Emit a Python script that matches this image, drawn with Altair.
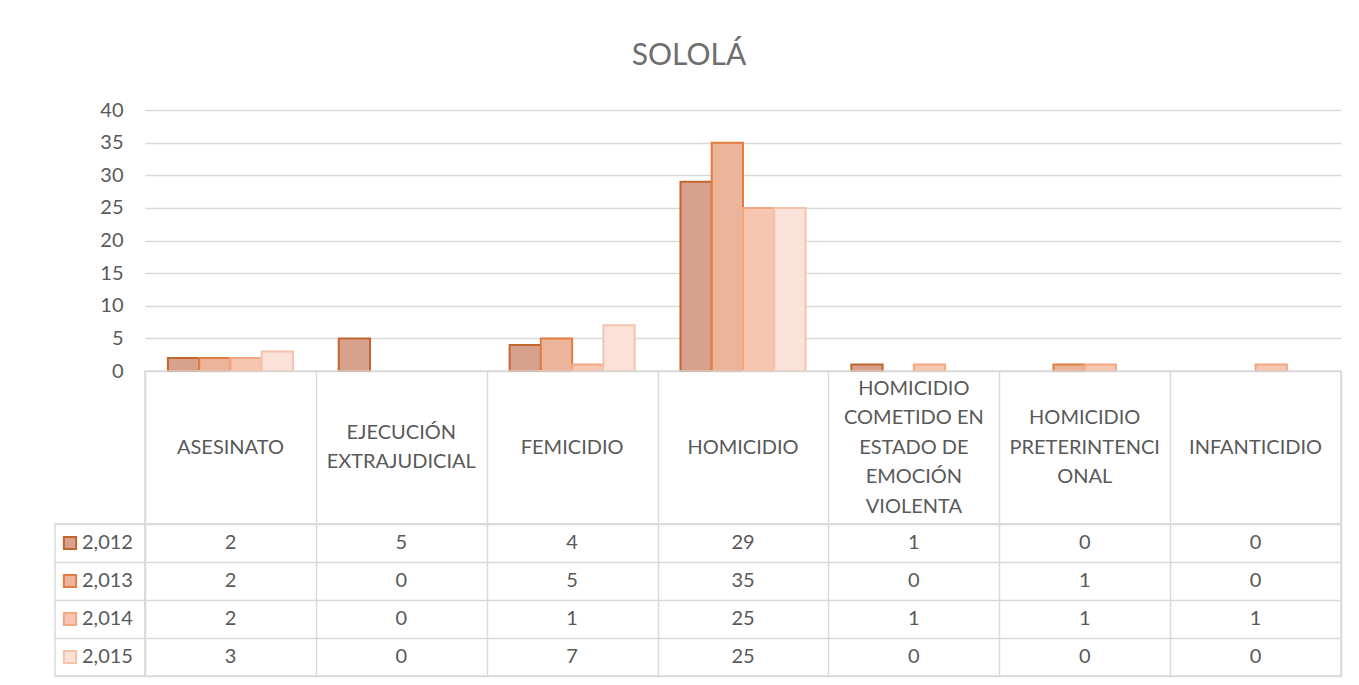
import altair as alt
import pandas as pd

categories = ["ASESINATO", "EJECUCIÓN EXTRAJUDICIAL", "FEMICIDIO", "HOMICIDIO",
              "HOMICIDIO COMETIDO EN ESTADO DE EMOCIÓN VIOLENTA",
              "HOMICIDIO PRETERINTENCIONAL", "INFANTICIDIO"]
category_labels = ["ASESINATO", "EJECUCIÓN\nEXTRAJUDICIAL", "FEMICIDIO", "HOMICIDIO",
                   "HOMICIDIO\nCOMETIDO EN\nESTADO DE\nEMOCIÓN\nVIOLENTA",
                   "HOMICIDIO\nPRETERINTENCI\nONAL", "INFANTICIDIO"]
years = ["2,012", "2,013", "2,014", "2,015"]
v2012 = [2, 5, 4, 29, 1, 0, 0]
v2013 = [2, 0, 5, 35, 0, 1, 0]
v2014 = [2, 0, 1, 25, 1, 1, 1]
v2015 = [3, 0, 7, 25, 0, 0, 0]
y_ticks = [0, 5, 10, 15, 20, 25, 30, 35, 40]

fills = ["#D8A18E", "#ECB59B", "#F8C6B0", "#FBE2D8"]
strokes = ["#C2662F", "#E27C3F", "#F3A682", "#F4C2AD"]

series = [v2012, v2013, v2014, v2015]
rows = []
for yr, vals in zip(years, series):
    for c, v in zip(categories, vals):
        rows.append({"cat": c, "year": yr, "value": v})
df = pd.DataFrame(rows)
df_bars = df[df["value"] > 0]

# one row per text line of each category label, centred on the cell
line_rows = []
for c, lab in zip(categories, category_labels):
    parts = lab.split("\n")
    k = len(parts)
    for i, p in enumerate(parts):
        line_rows.append({"cat": c, "line": p, "pos": (k - 1) / 2 - i})
df_cats = pd.DataFrame(line_rows)
df_leg = pd.DataFrame({"year": years})

FONT = "Lato"
TXT = "#595959"
GRID = "#D9D9D9"
W, BH, LH, TH, LW = 1196, 261, 153, 152, 90
LINE_H = 29.5
half_span = LH / LINE_H / 2

fill_scale = alt.Scale(domain=years, range=fills)
stroke_scale = alt.Scale(domain=years, range=strokes)
cat_scale_flat = alt.Scale(domain=categories, paddingInner=0, paddingOuter=0)
year_scale_flat = alt.Scale(domain=years, paddingInner=0, paddingOuter=0)

grid_axis = dict(grid=True, tickBand="extent", labels=False, ticks=False, domain=False,
                 title=None, gridColor=GRID, gridWidth=1.5)
no_stroke = alt.ViewBackground(stroke="transparent")
box = alt.ViewBackground(stroke=GRID, strokeWidth=1.5)

bars = alt.Chart(df_bars).mark_bar(strokeWidth=2).encode(
    x=alt.X("cat:N", sort=categories,
            scale=alt.Scale(domain=categories, paddingInner=0.268, paddingOuter=0.134),
            axis=None),
    xOffset=alt.XOffset("year:N", sort=years,
                        scale=alt.Scale(domain=years, paddingInner=0, paddingOuter=0)),
    y=alt.Y("value:Q", scale=alt.Scale(domain=[0, 40]),
            axis=alt.Axis(values=y_ticks, title=None, domain=False, ticks=False,
                          grid=True, gridColor=GRID, gridWidth=1.5,
                          labelFont=FONT, labelFontSize=20, labelColor=TXT,
                          labelPadding=22)),
    fill=alt.Fill("year:N", scale=fill_scale, legend=None),
    stroke=alt.Stroke("year:N", scale=stroke_scale, legend=None),
).properties(width=W, height=BH, view=no_stroke)

cat_chart = alt.Chart(df_cats).mark_text(
    font=FONT, fontSize=20, color=TXT, baseline="middle"
).encode(
    x=alt.X("cat:N", sort=categories, scale=cat_scale_flat, axis=alt.Axis(**grid_axis)),
    y=alt.Y("pos:Q", scale=alt.Scale(domain=[-half_span, half_span]), axis=None),
    text="line:N",
).properties(width=W, height=LH, view=box)

table = alt.Chart(df).mark_text(font=FONT, fontSize=20, color=TXT).encode(
    x=alt.X("cat:N", sort=categories, scale=cat_scale_flat, axis=alt.Axis(**grid_axis)),
    y=alt.Y("year:N", sort=years, scale=year_scale_flat, axis=alt.Axis(**grid_axis)),
    text="value:Q",
).properties(width=W, height=TH, view=box)

leg_y = alt.Y("year:N", sort=years, scale=year_scale_flat, axis=alt.Axis(**grid_axis))
leg_sq = alt.Chart(df_leg).mark_point(shape="square", filled=True, size=150,
                                      strokeWidth=2, opacity=1).encode(
    x=alt.value(15),
    y=leg_y,
    fill=alt.Fill("year:N", scale=fill_scale, legend=None),
    stroke=alt.Stroke("year:N", scale=stroke_scale, legend=None),
)
leg_tx = alt.Chart(df_leg).mark_text(font=FONT, fontSize=20, color=TXT, align="left").encode(
    x=alt.value(27),
    y=leg_y,
    text="year:N",
)
legend = alt.layer(leg_sq, leg_tx).properties(width=LW, height=TH, view=box)

def spacer(h):
    return alt.Chart(pd.DataFrame({"a": [0]})).mark_point(opacity=0).properties(
        width=LW, height=h, view=no_stroke)

chart = alt.concat(
    spacer(BH), bars,
    spacer(LH), cat_chart,
    legend, table,
    columns=2, spacing=0, bounds="flush",
).properties(
    title=alt.TitleParams("SOLOLÁ", font=FONT, fontSize=30, color="#6E6E6E",
                          fontWeight="normal", anchor="middle", dx=-9, offset=29),
    padding={"left": 46, "top": 32, "right": 5, "bottom": 5},
).resolve_scale(fill="shared", stroke="shared").configure(background="white")

chart.save("out.html", embed_options={"renderer": "svg", "actions": False})
